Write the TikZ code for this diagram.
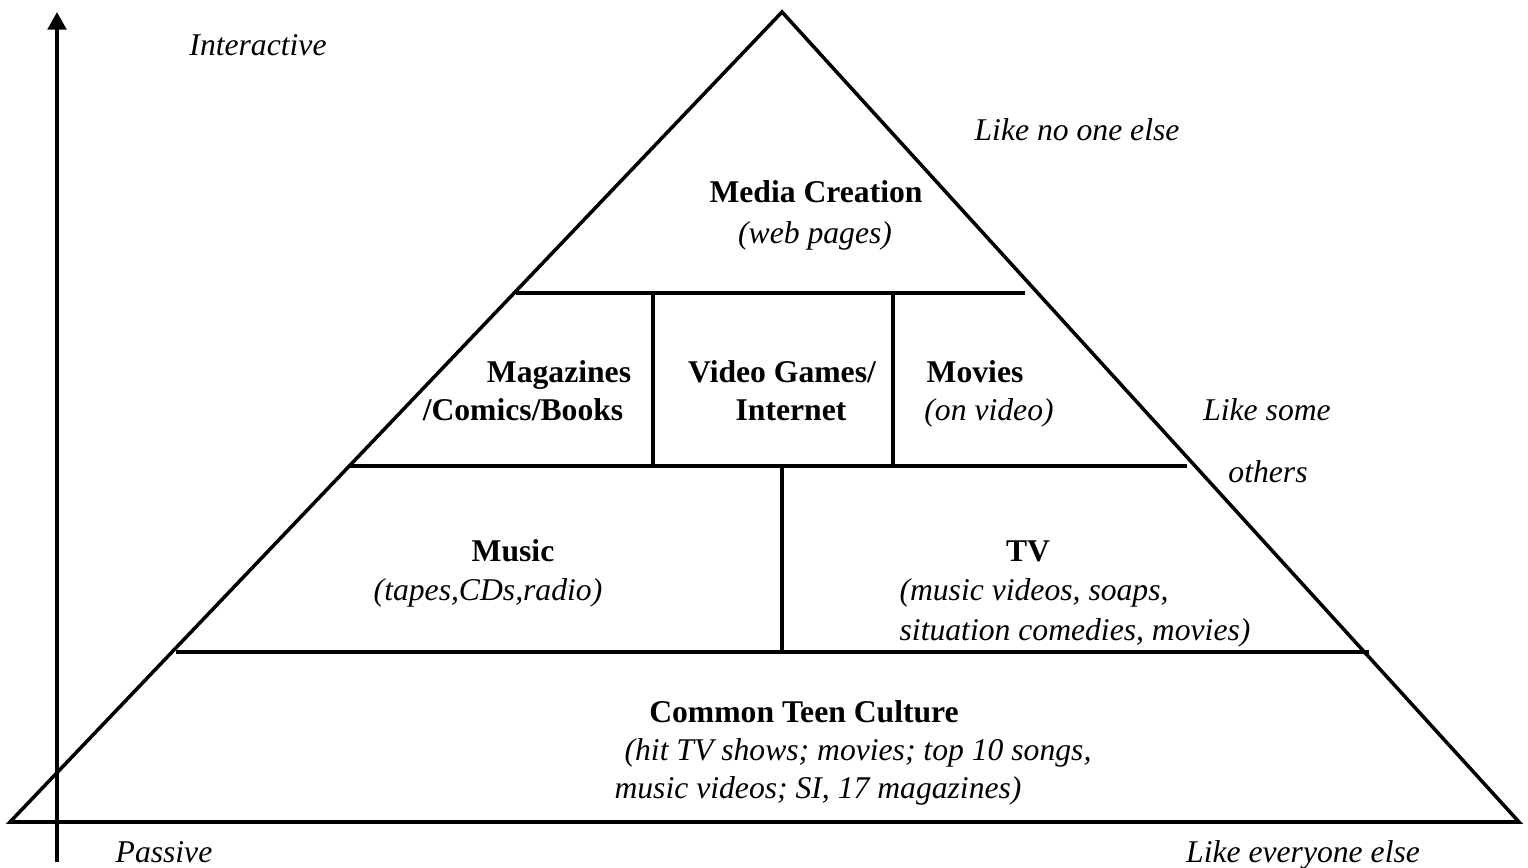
\documentclass[tikz,border=0pt]{standalone}
\usepackage{fontspec}
\setmainfont{Liberation Serif}
\usetikzlibrary{arrows.meta}
\begin{document}
\begin{tikzpicture}[x=0.01cm, y=-0.01cm,
	every node/.style = {anchor=base, inner sep=0pt, font=\fontsize{9}{11}\selectfont},
	ttl/.style = {font=\fontsize{9}{11}\selectfont\bfseries},
	lbl/.style = {font=\fontsize{9}{11}\selectfont\itshape},
	edge/.style = {line width=1pt, line join=miter},
	tier/.style = {line width=1.15pt}]
	\useasboundingbox (0,0) rectangle (1528,868);
	% axis and pyramid
	\draw[line width=1.15pt, -{Triangle[width=5.2pt,length=5pt]}] (57,862) -- (57,12);
	\draw[edge] (10,822) -- (782,12) -- (1519,822) -- cycle;
	\draw[tier] (516,293) -- (1025,293);
	\draw[tier] (348,466) -- (1187,466);
	\draw[tier] (176,652) -- (1369,652);
	\draw[tier] (653,293) -- (653,466);
	\draw[tier] (893,293) -- (893,466);
	\draw[tier] (782,466) -- (782,652);
	% axis labels
	\node[lbl] (interactive) at (258,56) {Interactive};
	\node[lbl] (passive) at (164,863) {Passive};
	\node[lbl] (noone) at (1077,141) {Like no one else};
	\node[lbl] (some) at (1267,421) {Like some};
	\node[lbl] (others) at (1268,483) {others};
	\node[lbl] (everyone) at (1303,863) {Like everyone else};
	% top tier
	\node[ttl] (creation) at (816,203) {Media Creation};
	\node[lbl] (web) at (815,244) {(web pages)};
	% second tier
	\node[ttl] (mags) at (559,383) {Magazines};
	\node[ttl] (books) at (523,421) {/Comics/Books};
	\node[ttl] (games) at (782,383) {Video Games/};
	\node[ttl] (internet) at (791,421) {Internet};
	\node[ttl] (movies) at (975,383) {Movies};
	\node[lbl] (video) at (989,421) {(on video)};
	% third tier
	\node[ttl] (music) at (513,562) {Music};
	\node[lbl] (tapes) at (488,601) {(tapes,CDs,radio)};
	\node[ttl] (tv) at (1028,562) {TV};
	\node[lbl] (soaps) at (1034,601) {(music videos, soaps,};
	\node[lbl] (sitcoms) at (1075,641) {situation comedies, movies)};
	% base tier
	\node[ttl] (culture) at (804,723) {Common Teen Culture};
	\node[lbl] (hits) at (858,761) {(hit TV shows; movies; top 10 songs,};
	\node[lbl] (mags17) at (818,799) {music videos; SI, 17 magazines)};
\end{tikzpicture}
\end{document}
